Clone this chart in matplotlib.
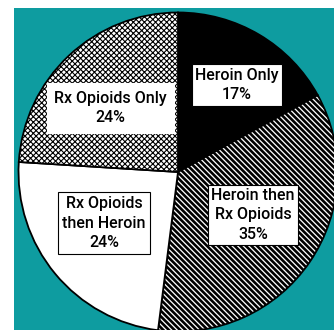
import matplotlib
matplotlib.use("Agg")
import matplotlib.pyplot as plt
from matplotlib.patches import Rectangle

plt.rcParams["font.family"] = ["Roboto", "Liberation Sans", "DejaVu Sans"]

labels = ["Heroin Only", "Heroin then\nRx Opioids", "Rx Opioids\nthen Heroin", "Rx Opioids Only"]
shares = [17, 35, 24, 24]
faces = ["black", "white", "white", "white"]
hatches = [None, "\\\\\\\\\\\\", None, "xxxxxx"]

# label box centre offsets from the pie centre (pixels) and box styling
label_offsets = [(59, 87), (75, -43), (-74, -51), (-68, 64)]
box_edges = ["black", "black", "black", "white"]
box_pads = [0.2, 0.2, 0.25, 0.45]

W, H = 334, 330
fig = plt.figure(figsize=(W / 100, H / 100), dpi=100)
fig.patch.set_facecolor("white")

left, top = 14, 8
ax = fig.add_axes([left / W, 0, (W - left) / W, (H - top) / H])
ax.set_axis_off()
ax.add_patch(Rectangle((0, 0), 1, 1, transform=ax.transAxes,
                       facecolor="#0e9ca0", edgecolor="none", zorder=0))

cx, cy, r = 178, H - 172, 159.5
wedges, _ = ax.pie(shares, startangle=90, counterclock=False,
                   center=(cx, cy), radius=r, colors=faces,
                   wedgeprops=dict(edgecolor="black", linewidth=1.3))
for w, h in zip(wedges, hatches):
    w.set_zorder(1)
    if h:
        w.set_hatch(h)
        if hasattr(w, "set_hatch_linewidth"):
            w.set_hatch_linewidth(1.9 if h.startswith("\\") else 0.8)

ax.set_xlim(left, W)
ax.set_ylim(0, H - top)

for lab, s, (dx, dy), ec, pad in zip(labels, shares, label_offsets, box_edges, box_pads):
    ax.text(cx + dx, cy + dy, f"{lab}\n{s}%", ha="center", va="center",
            fontsize=11.5, fontweight="medium", linespacing=1.4, zorder=3,
            bbox=dict(boxstyle=f"square,pad={pad}", facecolor="white",
                      edgecolor=ec, linewidth=0.8))

fig.savefig("out.png", dpi=100)
